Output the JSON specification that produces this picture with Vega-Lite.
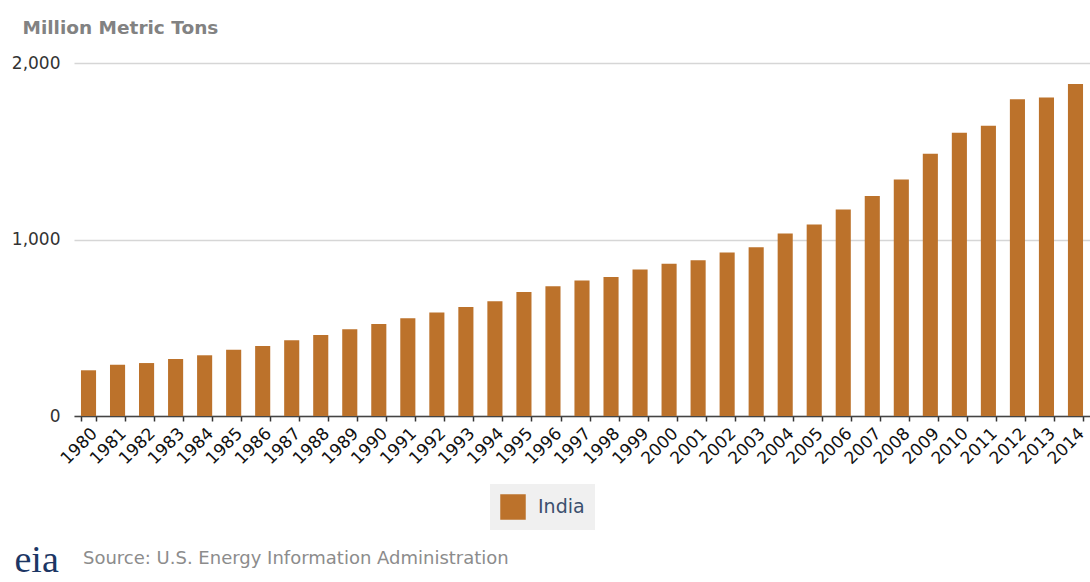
{
  "$schema": "https://vega.github.io/schema/vega-lite/v6.json",
  "width": 1016,
  "height": 353,
  "autosize": {"type": "none"},
  "padding": {"left": 74, "top": 63, "right": 0, "bottom": 166},
  "background": "white",
  "config": {
    "view": {"stroke": null},
    "font": "DejaVu Sans"
  },
  "title": {
    "text": "Source: U.S. Energy Information Administration",
    "orient": "bottom",
    "anchor": "start",
    "frame": "group",
    "offset": -29,
    "dx": 9,
    "fontSize": 18,
    "fontWeight": "normal",
    "color": "#8c8c8c",
    "font": "DejaVu Sans"
  },
  "data": {
    "values": [
      {"year": "1980", "country": "India", "value": 259},
      {"year": "1981", "country": "India", "value": 291},
      {"year": "1982", "country": "India", "value": 300},
      {"year": "1983", "country": "India", "value": 323},
      {"year": "1984", "country": "India", "value": 344},
      {"year": "1985", "country": "India", "value": 376},
      {"year": "1986", "country": "India", "value": 397},
      {"year": "1987", "country": "India", "value": 429},
      {"year": "1988", "country": "India", "value": 459},
      {"year": "1989", "country": "India", "value": 491},
      {"year": "1990", "country": "India", "value": 521},
      {"year": "1991", "country": "India", "value": 554},
      {"year": "1992", "country": "India", "value": 586},
      {"year": "1993", "country": "India", "value": 618},
      {"year": "1994", "country": "India", "value": 650},
      {"year": "1995", "country": "India", "value": 703},
      {"year": "1996", "country": "India", "value": 735},
      {"year": "1997", "country": "India", "value": 767},
      {"year": "1998", "country": "India", "value": 788},
      {"year": "1999", "country": "India", "value": 830},
      {"year": "2000", "country": "India", "value": 862},
      {"year": "2001", "country": "India", "value": 883},
      {"year": "2002", "country": "India", "value": 926},
      {"year": "2003", "country": "India", "value": 956},
      {"year": "2004", "country": "India", "value": 1034},
      {"year": "2005", "country": "India", "value": 1085},
      {"year": "2006", "country": "India", "value": 1170},
      {"year": "2007", "country": "India", "value": 1246},
      {"year": "2008", "country": "India", "value": 1340},
      {"year": "2009", "country": "India", "value": 1486},
      {"year": "2010", "country": "India", "value": 1605},
      {"year": "2011", "country": "India", "value": 1644},
      {"year": "2012", "country": "India", "value": 1794},
      {"year": "2013", "country": "India", "value": 1805},
      {"year": "2014", "country": "India", "value": 1881}
    ]
  },
  "mark": {"type": "bar"},
  "encoding": {
    "x": {
      "field": "year",
      "type": "ordinal",
      "scale": {"paddingInner": 0.48, "paddingOuter": 0.24},
      "axis": {
        "title": "eia",
        "titleFont": "Liberation Serif",
        "titleFontSize": 38,
        "titleFontWeight": "normal",
        "titleColor": "#1c3664",
        "titleX": -60,
        "titleY": 155,
        "titleAlign": "left",
        "titleBaseline": "alphabetic",
        "labelAngle": -45,
        "labelFontSize": 17,
        "labelColor": "#111111",
        "labelPadding": 4,
        "tickBand": "extent",
        "tickColor": "#333333",
        "tickSize": 5,
        "tickWidth": 1.5,
        "domainColor": "#444444",
        "domainWidth": 1.5,
        "grid": false
      }
    },
    "y": {
      "field": "value",
      "type": "quantitative",
      "scale": {"domain": [0, 2000], "nice": false},
      "axis": {
        "values": [0, 1000, 2000],
        "format": ",d",
        "title": "Million Metric Tons",
        "titleAngle": 0,
        "titleAlign": "left",
        "titleBaseline": "alphabetic",
        "titleX": -52,
        "titleY": -30,
        "titleFontSize": 18.5,
        "titleFontWeight": "bold",
        "titleColor": "#828282",
        "labelFontSize": 17,
        "labelColor": "#333333",
        "labelPadding": 14,
        "ticks": false,
        "domain": false,
        "grid": true,
        "gridColor": "#d6d6d6",
        "gridWidth": 1.5
      }
    },
    "color": {
      "field": "country",
      "type": "nominal",
      "scale": {"range": ["#bc722b"]},
      "legend": {
        "title": null,
        "orient": "none",
        "legendX": 416,
        "legendY": 421,
        "fillColor": "#f0f0f0",
        "padding": 10,
        "symbolType": "square",
        "symbolSize": 650,
        "symbolStrokeWidth": 0,
        "labelFont": "DejaVu Sans",
        "labelFontSize": 19,
        "labelColor": "#3b4f6e",
        "labelOffset": 12
      }
    }
  }
}
